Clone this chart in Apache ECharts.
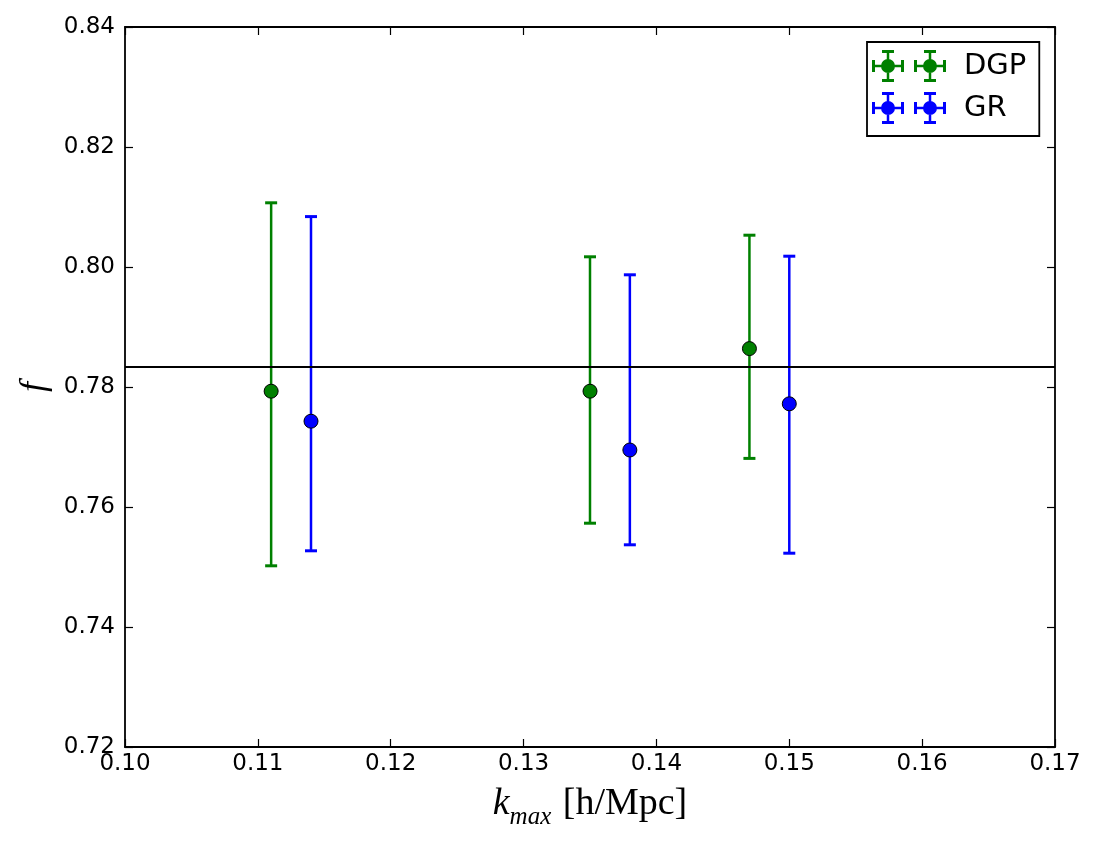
<!DOCTYPE html>
<html>
<head>
<meta charset="utf-8">
<script src="https://cdn.jsdelivr.net/npm/echarts@6/dist/echarts.min.js"></script>
<style>
  html, body { margin: 0; padding: 0; background: #fff; }
  #main { width: 1098px; height: 845px; }
</style>
</head>
<body>
<div id="main"></div>
<script>
// data
var kDGP = [0.111, 0.135, 0.147];
var fDGP = [0.7793, 0.7793, 0.7864];
var loDGP = [0.7502, 0.7573, 0.7681];
var hiDGP = [0.8107, 0.8017, 0.8053];

var kGR = [0.114, 0.138, 0.150];
var fGR = [0.7743, 0.7695, 0.7772];
var loGR = [0.7527, 0.7537, 0.7523];
var hiGR = [0.8084, 0.7987, 0.8018];

var fLine = 0.7834;

var xTicks = [0.10, 0.11, 0.12, 0.13, 0.14, 0.15, 0.16, 0.17];
var yTicks = [0.72, 0.74, 0.76, 0.78, 0.80, 0.82, 0.84];

var green = '#008000';
var blue = '#0000ff';

function pts(xs, ys) {
    var out = [];
    for (var i = 0; i < xs.length; i++) out.push([xs[i], ys[i]]);
    return out;
}
function bars(xs, lo, hi) {
    var out = [];
    for (var i = 0; i < xs.length; i++) out.push([xs[i], lo[i], hi[i]]);
    return out;
}

// error bar: vertical line + caps
function errorBar(color) {
    return function (params, api) {
        var top = api.coord([api.value(0), api.value(2)]);
        var bot = api.coord([api.value(0), api.value(1)]);
        var cap = 6;
        return {
            type: 'group',
            children: [
                { type: 'line', shape: { x1: top[0], y1: top[1], x2: bot[0], y2: bot[1] },
                  style: { stroke: color, lineWidth: 2.5 } },
                { type: 'line', shape: { x1: top[0] - cap, y1: top[1], x2: top[0] + cap, y2: top[1] },
                  style: { stroke: color, lineWidth: 3 } },
                { type: 'line', shape: { x1: bot[0] - cap, y1: bot[1], x2: bot[0] + cap, y2: bot[1] },
                  style: { stroke: color, lineWidth: 3 } }
            ]
        };
    };
}

// legend glyph: two markers with x/y error bars (like matplotlib numpoints=2)
function rect(x, y, w, h) {
    return 'M' + x + ' ' + y + 'h' + w + 'v' + h + 'h' + (-w) + 'Z';
}
function legendIcon() {
    var p = '';
    [16, 58].forEach(function (cx) {
        p += rect(cx - 16, 14.75, 32, 2.5);
        p += rect(cx - 1.25, 0, 2.5, 32);
        p += rect(cx - 6, 0, 12, 3);
        p += rect(cx - 6, 29, 12, 3);
        p += rect(cx - 16, 10, 3, 12);
        p += rect(cx + 13, 10, 3, 12);
        var r = 7;
        p += 'M' + (cx - r) + ' 16A' + r + ' ' + r + ' 0 1 1 ' + (cx + r) + ' 16A' + r + ' ' + r + ' 0 1 1 ' + (cx - r) + ' 16Z';
    });
    return 'path://' + p;
}

var tickFont = { color: '#000', fontSize: 23, fontFamily: 'DejaVu Sans' };
var axisLine = { show: true, lineStyle: { color: '#000', width: 1.8 } };
var axisTick = { show: true, inside: true, length: 8, lineStyle: { color: '#000', width: 1.2 } };

var myChart = echarts.init(document.getElementById('main'));

option = {
    animation: false,
    backgroundColor: '#fff',
    grid: { left: 125, right: 43, top: 27, bottom: 98, containLabel: false, outerBoundsMode: 'none' },
    legend: {
        left: 867,
        top: 42,
        orient: 'vertical',
        align: 'left',
        padding: [8, 13, 12, 5],
        itemGap: 10,
        itemWidth: 74,
        itemHeight: 32,
        borderColor: '#000',
        borderWidth: 1.8,
        borderRadius: 0,
        selectedMode: false,
        textStyle: { color: '#000', fontSize: 29, fontFamily: 'DejaVu Sans', padding: [0, 0, 0, 13] },
        data: [
            { name: 'DGP', icon: legendIcon() },
            { name: 'GR', icon: legendIcon() }
        ]
    },
    xAxis: [{
        type: 'value',
        min: 0.10, max: 0.17, interval: 0.01,
        position: 'bottom',
        axisLine: axisLine,
        axisTick: axisTick,
        splitLine: { show: false },
        axisLabel: Object.assign({ margin: 6, formatter: function (v) { return v.toFixed(2); } }, tickFont),
        name: '{k|k}{sub|max}{u| [h/Mpc]}',
        nameLocation: 'middle',
        nameGap: 38,
        nameTextStyle: {
            rich: {
                k: { fontSize: 38, fontStyle: 'italic', fontFamily: 'Liberation Serif', color: '#000', verticalAlign: 'bottom' },
                sub: { fontSize: 25, fontStyle: 'italic', fontFamily: 'Liberation Serif', color: '#000', verticalAlign: 'bottom', padding: [0, 2, -7, 0] },
                u: { fontSize: 38, fontFamily: 'Liberation Serif', color: '#000', verticalAlign: 'bottom' }
            }
        }
    }, {
        type: 'value',
        min: 0.10, max: 0.17, interval: 0.01,
        position: 'top',
        axisLine: axisLine,
        axisTick: axisTick,
        splitLine: { show: false },
        axisLabel: { show: false }
    }],
    yAxis: [{
        type: 'value',
        min: 0.72, max: 0.84, interval: 0.02,
        position: 'left',
        axisLine: axisLine,
        axisTick: axisTick,
        splitLine: { show: false },
        axisLabel: Object.assign({ margin: 10, formatter: function (v) { return v.toFixed(2); } }, tickFont),
        name: 'f',
        nameLocation: 'middle',
        nameGap: 69,
        nameRotate: 90,
        nameTextStyle: { fontSize: 36, fontStyle: 'italic', fontFamily: 'Liberation Serif', color: '#000' }
    }, {
        type: 'value',
        min: 0.72, max: 0.84, interval: 0.02,
        position: 'right',
        axisLine: axisLine,
        axisTick: axisTick,
        splitLine: { show: false },
        axisLabel: { show: false }
    }],
    series: [
        {
            name: 'line',
            type: 'line',
            data: [],
            z: 1,
            markLine: {
                silent: true,
                precision: 4,
                symbol: ['none', 'none'],
                label: { show: false },
                lineStyle: { color: '#000', width: 1.8, type: 'solid' },
                data: [{ yAxis: fLine }]
            }
        },
        {
            name: 'DGP', type: 'custom', z: 2, color: green,
            renderItem: errorBar(green),
            encode: { x: 0, y: [1, 2] },
            data: bars(kDGP, loDGP, hiDGP)
        },
        {
            name: 'GR', type: 'custom', z: 2, color: blue,
            renderItem: errorBar(blue),
            encode: { x: 0, y: [1, 2] },
            data: bars(kGR, loGR, hiGR)
        },
        {
            name: 'DGP', type: 'scatter', z: 3,
            symbol: 'circle', symbolSize: 14,
            itemStyle: { color: green, borderColor: '#000', borderWidth: 1, opacity: 1 },
            data: pts(kDGP, fDGP)
        },
        {
            name: 'GR', type: 'scatter', z: 3,
            symbol: 'circle', symbolSize: 14,
            itemStyle: { color: blue, borderColor: '#000', borderWidth: 1, opacity: 1 },
            data: pts(kGR, fGR)
        }
    ]
};

if (option && typeof option === "object") {
    myChart.setOption(option, true);
}
</script>
</body>
</html>
